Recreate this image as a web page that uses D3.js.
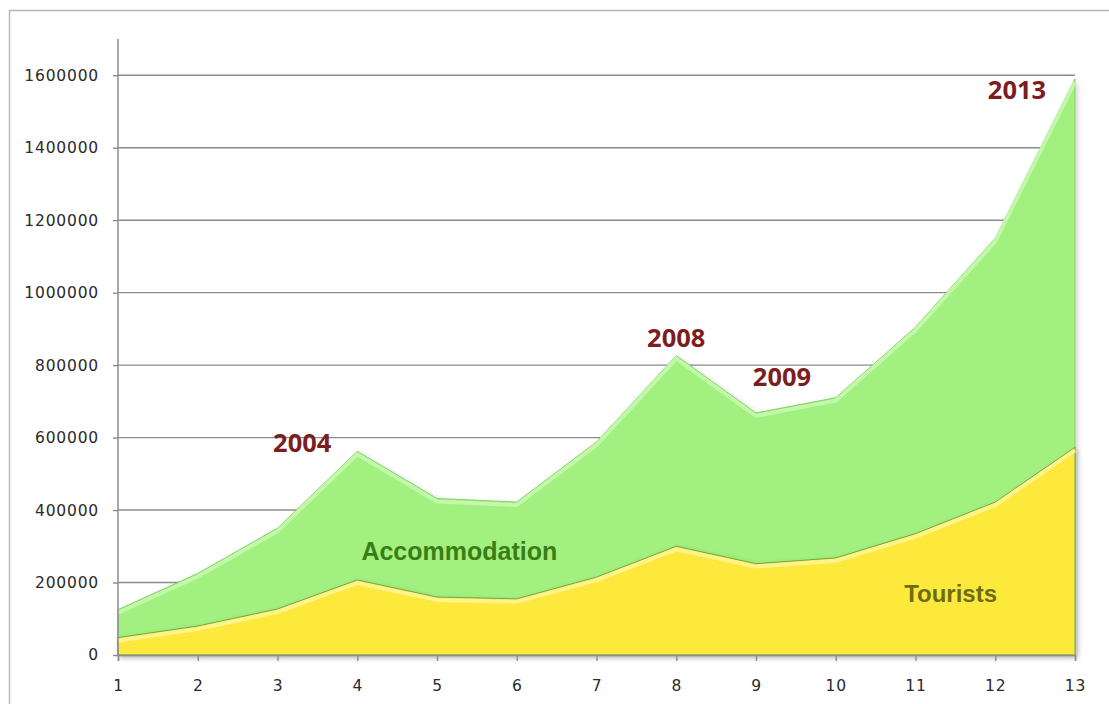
<!DOCTYPE html>
<html>
<head>
<meta charset="utf-8">
<script src="https://cdn.jsdelivr.net/npm/d3@7"></script>
<style>
  body { margin: 0; background: #fff; }
  svg { display: block; }
</style>
</head>
<body>
<div class="chart"></div>
<script>
// Tourists / accommodation area chart
var svgWidth = 1109;
var svgHeight = 704;

var margin = { top: 39, right: 34, bottom: 49, left: 118 };
var width = 1075 - margin.left;
var height = 655 - margin.top;

// data
var periods = [1, 2, 3, 4, 5, 6, 7, 8, 9, 10, 11, 12, 13];
var accommodation = [125000, 225000, 350000, 562000, 432000, 422000, 588000, 826000, 668000, 710000, 905000, 1150000, 1590000];
var tourists = [48000, 80000, 127000, 207000, 160000, 155000, 215000, 300000, 252000, 268000, 335000, 422000, 573000];
var yTicks = [0, 200000, 400000, 600000, 800000, 1000000, 1200000, 1400000, 1600000];
var yearNotes = [
  { period: 4, value: 562000, label: "2004", dx: -55, dy: 1 },
  { period: 8, value: 826000, label: "2008", dx: 0, dy: -9 },
  { period: 9, value: 668000, label: "2009", dx: 26, dy: -27 },
  { period: 13, value: 1590000, label: "2013", dx: -58, dy: 20 }
];

var svg = d3.select(".chart")
  .append("svg")
  .attr("width", svgWidth)
  .attr("height", svgHeight);

var defs = svg.append("defs");
var shadow = defs.append("filter").attr("id", "shadow")
  .attr("x", "-5%").attr("y", "-5%").attr("width", "110%").attr("height", "110%");
shadow.append("feDropShadow")
  .attr("dx", 2).attr("dy", 2).attr("stdDeviation", 2.5)
  .attr("flood-color", "#000").attr("flood-opacity", 0.18);

// outer frame
svg.append("rect")
  .attr("x", 9.5).attr("y", 10.5)
  .attr("width", 1120).attr("height", 720)
  .attr("fill", "none")
  .attr("stroke", "#b8b8b8")
  .attr("stroke-width", 1.5);

var chartGroup = svg.append("g")
  .attr("transform", `translate(${margin.left}, ${margin.top})`);

var x = d3.scaleLinear().domain([1, 13]).range([0, width]);
var y = d3.scaleLinear().domain([0, 1700000]).range([height, 0]);

// gridlines
chartGroup.append("g")
  .selectAll("line")
  .data(yTicks.slice(1))
  .enter()
  .append("line")
  .attr("x1", 0)
  .attr("x2", width)
  .attr("y1", d => y(d))
  .attr("y2", d => y(d))
  .attr("stroke", "#8c8c8c")
  .attr("stroke-width", 1.4);

var area = function (values) {
  return d3.area()
    .x((d, i) => x(periods[i]))
    .y0(height)
    .y1(d => y(d))(values);
};
var topLine = function (values, off) {
  return d3.line()
    .x((d, i) => x(periods[i]))
    .y(d => y(d) + off)(values);
};

// accommodation (green)
chartGroup.append("path")
  .attr("d", area(accommodation))
  .attr("fill", "#a2f07f")
  .attr("stroke", "#86cf66")
  .attr("stroke-width", 1)
  .attr("filter", "url(#shadow)");
chartGroup.append("path")
  .attr("d", topLine(accommodation, 3))
  .attr("fill", "none")
  .attr("stroke", "#c8f9b0")
  .attr("stroke-width", 4)
  .attr("opacity", 0.85);

// tourists (yellow)
chartGroup.append("path")
  .attr("d", area(tourists))
  .attr("fill", "#fde93b")
  .attr("stroke", "#6fa848")
  .attr("stroke-width", 1)
  .attr("filter", "url(#shadow)");
chartGroup.append("path")
  .attr("d", topLine(tourists, 3))
  .attr("fill", "none")
  .attr("stroke", "#fff49a")
  .attr("stroke-width", 4)
  .attr("opacity", 0.85);

// axes
var leftAxis = d3.axisLeft(y).tickValues(yTicks).tickSize(5).tickPadding(14).tickFormat(d3.format("d"));
var bottomAxis = d3.axisBottom(x).tickValues(periods).tickSize(6).tickPadding(19).tickFormat(d3.format("d"));

var yAxis = chartGroup.append("g").call(leftAxis);
var xAxis = chartGroup.append("g")
  .attr("transform", `translate(0, ${height})`)
  .call(bottomAxis);

[yAxis, xAxis].forEach(function (g) {
  g.select(".domain").attr("stroke", "#8c8c8c").attr("stroke-width", 1.5);
  g.selectAll(".tick line").attr("stroke", "#8c8c8c").attr("stroke-width", 1.4);
  g.selectAll(".tick text")
    .attr("fill", "#2a2a2a")
    .attr("font-family", "DejaVu Sans, sans-serif")
    .attr("font-size", "15.5px")
    .attr("letter-spacing", "0.8px");
});
yAxis.select(".domain").attr("d", `M0,${y(1700000)}V${height}`);

// series labels
chartGroup.append("text")
  .attr("x", x(5.28))
  .attr("y", y(262000))
  .attr("text-anchor", "middle")
  .attr("font-family", "Liberation Sans, Arial, sans-serif")
  .attr("font-weight", "bold")
  .attr("font-size", "25px")
  .attr("fill", "#3b7d15")
  .text("Accommodation");

chartGroup.append("text")
  .attr("x", x(11.44))
  .attr("y", y(145000))
  .attr("text-anchor", "middle")
  .attr("font-family", "Liberation Sans, Arial, sans-serif")
  .attr("font-weight", "bold")
  .attr("font-size", "24px")
  .attr("fill", "#6e6c12")
  .text("Tourists");

// year notes
chartGroup.selectAll(".year")
  .data(yearNotes)
  .enter()
  .append("text")
  .attr("class", "year")
  .attr("x", d => x(d.period) + d.dx)
  .attr("y", d => y(d.value) + d.dy)
  .attr("text-anchor", "middle")
  .attr("font-family", "Open Sans, sans-serif")
  .attr("font-weight", "bold")
  .attr("font-size", "25.5px")
  .attr("fill", "#7c1d1f")
  .text(d => d.label);
</script>
</body>
</html>
